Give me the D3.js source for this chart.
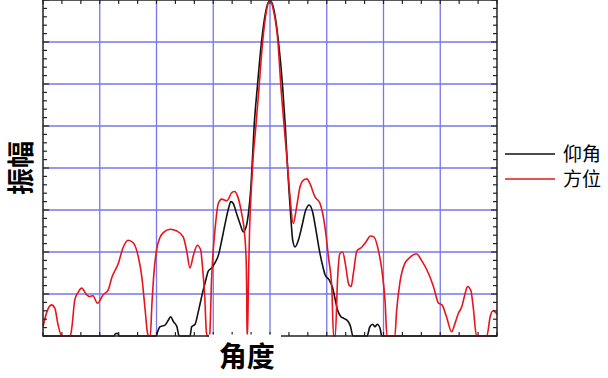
<!DOCTYPE html>
<html>
<head>
<meta charset="utf-8">
<script src="https://cdn.jsdelivr.net/npm/d3@7"></script>
<style>
  html, body { margin: 0; padding: 0; background: #fff; }
  svg { display: block; }
</style>
</head>
<body>
<svg id="chart"></svg>
<script>
// angle in degrees, amplitude in dB (floor at -40)
const elevationAngle = [-40, -27.5, -27.2, -26.8, -26.6, -20.1, -19.7, -19.4, -18.5, -17.9, -17.5, -17.0, -16.4, -16.0,
  -14.1, -13.8, -13.2, -12.7, -12.3, -11.9, -11.3, -10.9, -10.3, -9.7, -9.1, -8.5, -7.9, -7.3, -6.9, -6.5, -5.9, -5.3,
  -4.7, -4.2, -3.8, -3.4, -3.1, -2.8, -2.2, -1.5, -0.7, 0, 0.7, 1.5, 2.2, 2.7, 3.1, 3.4, 3.7, 4.0, 4.4, 5.0, 5.6, 6.3,
  6.9, 7.5, 8.1, 8.7, 9.3, 9.7, 10.4, 11.0, 11.5, 11.9, 12.5, 13.0, 13.8, 14.2, 14.6, 17.1, 17.6, 18.1, 18.5, 18.9,
  19.4, 19.7, 40]
const elevationAmp = [-40, -40, -39.7, -39.7, -40, -40, -39.3, -38.9, -38.7, -38.1, -37.7, -38.3, -38.9, -40,
  -40, -38.9, -38.6, -37.3, -36.1, -34.9, -33.3, -32.3, -31.9, -31.3, -30.4, -28.6, -26.6, -24.8, -24.0, -24.2, -25.4, -26.6,
  -27.6, -27.0, -25.4, -22.6, -19.0, -15.1, -10.1, -5.0, -1.2, 0, -1.2, -5.0, -10.1, -15.1, -20.0, -23.2, -26.2, -28.6, -29.4, -28.6, -27.0, -25.0,
  -24.4, -25.2, -27.4, -29.8, -31.7, -32.7, -33.3, -34.2, -35.7, -36.9, -37.7, -37.9, -38.3, -38.9, -40, -40, -38.9, -38.6, -38.9, -38.6,
  -39.1, -40, -40]

const azimuthAngle = [-40, -39.3, -38.5, -37.9, -37.4, -36.7, -35.2, -34.9, -34.4, -33.8, -33.2, -32.3, -31.7, -31.2,
  -30.4, -29.4, -28.5, -27.9, -26.7, -25.9, -25.0, -24.1, -23.2, -22.6, -22.0, -21.6, -21.4, -21.1, -20.8, -20.4,
  -20.0, -19.4, -18.8, -17.6, -16.4, -15.3, -14.7, -14.1, -13.5, -12.8, -12.2, -11.9, -11.5, -11.2, -11.0, -10.7,
  -10.6, -10.3, -10.0, -9.7, -9.1, -8.5, -7.6, -6.7, -6.2, -5.8, -5.0, -4.5, -4.2, -4.1, -4.05, -3.96, -3.8, -3.6,
  -3.3, -3.0, -2.5, -1.9, -1.3, -0.6, 0, 0.6, 1.4, 1.9, 2.5, 3.1, 3.5, 4.1, 4.7, 5.3, 5.8, 6.5, 7.0, 7.9, 8.8, 9.7,
  10.3, 10.9, 11.2, 11.5, 11.9, 12.3, 12.8, 13.3, 13.9, 14.3, 14.7, 15.3, 16.2, 16.9, 17.7, 18.3, 19.1, 19.7, 20.3,
  20.6, 22.0, 22.3, 22.9, 23.8, 24.4, 25.8, 26.7, 27.9, 28.8, 29.7, 30.3, 31.1, 32.0, 32.6, 33.2, 33.8, 34.4, 34.8,
  35.4, 35.8, 36.4, 38.2, 38.8, 39.3, 40.0]
const azimuthAmp = [-38.9, -37.1, -36.3, -36.7, -38.5, -40, -40, -38.9, -35.7, -34.8, -34.3, -35.1, -35.3, -35.2,
  -36.1, -35.1, -34.5, -33.1, -31.3, -29.5, -28.6, -28.9, -30.6, -32.9, -36.9, -39.6, -40, -40, -36.1, -32.1,
  -29.8, -28.3, -27.7, -27.3, -27.5, -28.2, -29.8, -31.9, -30.4, -29.2, -29.8, -31.7, -35.3, -39.6, -40, -40,
  -39.6, -33.3, -29.8, -27.4, -24.2, -23.7, -23.9, -22.9, -22.8, -23.2, -25.4, -27.7, -31.0, -35.3, -40, -40, -33.3, -27.4,
  -22.6, -19.0, -15.1, -10.1, -5.0, -1.2, 0, -1.2, -5.0, -10.1, -15.1, -19.8, -23.2, -26.6, -24.6, -22.2, -21.5, -21.3, -21.8, -23.4, -24.2, -27.1,
  -30.6, -34.5, -40, -40, -33.3, -30.2, -30.0, -31.5, -33.9, -34.1, -32.5, -29.9, -29.4, -28.8, -28.1, -28.2, -29.8, -32.1, -36.1,
  -40, -40, -37.1, -33.6, -31.3, -30.8, -30.2, -31.0, -32.5, -34.1, -36.1, -36.3, -37.7, -39.5, -38.5, -37.3, -36.5, -34.9, -34.1,
  -34.6, -36.5, -40, -40, -37.7, -37.0, -37.4]

const seriesNames = ['仰角', '方位']
const seriesColors = ['#111111', '#e8141c']
const xTickValues = d3.range(-40, 41, 10)
const yTickValues = d3.range(-40, 1, 5)

const width = 608, height = 378
const margin = { top: 0, right: 111, bottom: 42, left: 43 }
const innerW = width - margin.left - margin.right
const innerH = height - margin.top - margin.bottom

const svg = d3.select('#chart').attr('width', width).attr('height', height)
const g = svg.append('g').attr('transform', `translate(${margin.left},${margin.top})`)

const x = d3.scaleLinear().domain([-40, 40]).range([0, innerW])
const y = d3.scaleLinear().domain([-40, 0]).range([innerH, 0])

g.append('rect').attr('width', innerW).attr('height', innerH).attr('fill', '#fff')

// grid
g.append('g')
  .selectAll('line')
  .data(xTickValues.slice(1, -1))
  .enter().append('line')
  .attr('x1', d => x(d)).attr('x2', d => x(d))
  .attr('y1', 0).attr('y2', innerH)
  .attr('stroke', '#7676ee').attr('stroke-width', 1.3)

g.append('g')
  .selectAll('line')
  .data(yTickValues.slice(1, -1))
  .enter().append('line')
  .attr('y1', d => y(d)).attr('y2', d => y(d))
  .attr('x1', 0).attr('x2', innerW)
  .attr('stroke', '#7676ee').attr('stroke-width', 1.3)

// curves
const series = [
  elevationAngle.map((a, i) => ({ a, v: elevationAmp[i] })),
  azimuthAngle.map((a, i) => ({ a, v: azimuthAmp[i] }))
]
const line = d3.line()
  .x(d => x(d.a))
  .y(d => y(d.v))
  .curve(d3.curveMonotoneX)

g.append('g')
  .selectAll('path')
  .data(series)
  .enter().append('path')
  .attr('d', line)
  .attr('fill', 'none')
  .attr('stroke', (d, i) => seriesColors[i])
  .attr('stroke-width', 1.6)
  .attr('stroke-linejoin', 'round')

// inward ticks on all four sides
const xMinor = d3.range(-40, 40.01, 10 / 3)
const yMinor = d3.range(-40, 0.01, 1)
const tickGroup = g.append('g').attr('stroke', '#222').attr('stroke-width', 1.2)
xMinor.forEach(v => {
  tickGroup.append('line').attr('x1', x(v)).attr('x2', x(v)).attr('y1', innerH).attr('y2', innerH - 4)
  tickGroup.append('line').attr('x1', x(v)).attr('x2', x(v)).attr('y1', 0).attr('y2', 4)
})
yMinor.forEach(v => {
  const len = v % 5 === 0 ? 6 : 4
  tickGroup.append('line').attr('y1', y(v)).attr('y2', y(v)).attr('x1', 0).attr('x2', len)
  tickGroup.append('line').attr('y1', y(v)).attr('y2', y(v)).attr('x1', innerW).attr('x2', innerW - len)
})

g.append('rect')
  .attr('width', innerW).attr('height', innerH)
  .attr('fill', 'none').attr('stroke', '#222').attr('stroke-width', 1.5)

// axis titles
g.append('rect')
  .attr('x', 166).attr('y', innerH - 1.5).attr('width', 72).attr('height', 44)
  .attr('fill', '#fff')

g.append('text')
  .attr('x', x(-4.1)).attr('y', innerH + 31)
  .attr('text-anchor', 'middle')
  .attr('font-family', '"Noto Sans CJK SC", sans-serif')
  .attr('font-weight', 'bold')
  .attr('font-size', 28)
  .attr('fill', '#000')
  .text('角度')

svg.append('text')
  .attr('transform', `translate(31, ${168}) rotate(-90)`)
  .attr('text-anchor', 'middle')
  .attr('font-family', '"Noto Sans CJK SC", sans-serif')
  .attr('font-weight', 'bold')
  .attr('font-size', 27)
  .attr('fill', '#000')
  .text('振幅')

// legend
const legend = svg.append('g').attr('transform', `translate(${margin.left + innerW + 8}, 154)`)
seriesNames.forEach((name, i) => {
  const row = legend.append('g').attr('transform', `translate(0, ${i * 25})`)
  row.append('line').attr('x1', 0).attr('x2', 50).attr('y1', 0).attr('y2', 0)
    .attr('stroke', seriesColors[i]).attr('stroke-width', 1.6)
  row.append('text')
    .attr('x', 58).attr('y', 7)
    .attr('font-family', '"Noto Sans CJK SC", sans-serif')
    .attr('font-size', 19)
    .attr('fill', '#000')
    .text(name)
})
</script>
</body>
</html>
